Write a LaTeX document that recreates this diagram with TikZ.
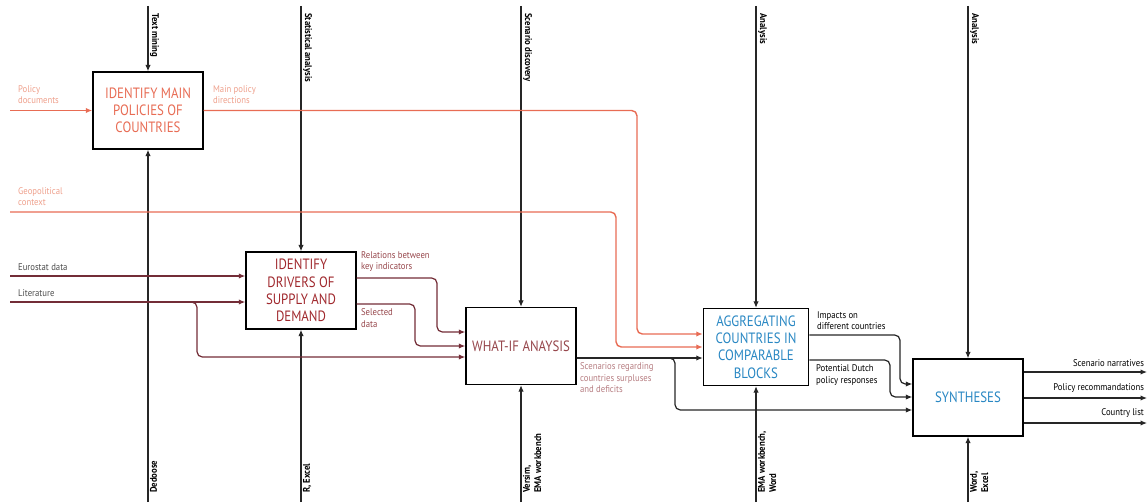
\documentclass[tikz,border=0pt]{standalone}
\usepackage{fontspec}
\setmainfont{PT Sans}
\newfontfamily\boxfont[FakeStretch=0.86]{PT Sans}
\newfontfamily\lblfont[FakeStretch=0.9]{PT Sans}
\usepackage{xcolor}
\definecolor{idefsalmon}{RGB}{232,108,84}
\definecolor{idefpale}{RGB}{238,160,140}
\definecolor{idefred}{RGB}{160,40,45}
\definecolor{idefwine}{RGB}{115,45,55}
\definecolor{idefrose}{RGB}{150,70,75}
\definecolor{idefblue}{RGB}{40,135,195}
\usetikzlibrary{positioning, arrows.meta}

\begin{document}
\begin{tikzpicture}[
  x=0.02cm, y=-0.02cm,
  proc/.style={rectangle, draw=black, line width=0.85pt, fill=white, minimum width=2.2cm, minimum height=1.54cm, align=center, font=\boxfont\fontsize{8.5}{9.8}\selectfont, inner sep=2pt},
  lbl/.style={font=\lblfont\fontsize{5.5}{6.4}\selectfont, inner sep=1pt, align=left},
  vlbl/.style={lbl, font=\lblfont\bfseries\fontsize{5.5}{6.4}\selectfont},
  ctrl/.style={-{Latex[length=1.3mm,width=1.1mm]}, black!85, line width=0.6pt},
  redarr/.style={-{Latex[length=1.3mm,width=1.1mm]}, idefsalmon, line width=0.8pt, rounded corners=3pt},
  winearr/.style={-{Latex[length=1.3mm,width=1.1mm]}, idefwine, line width=0.7pt, rounded corners=3pt},
  blkarr/.style={-{Latex[length=1.3mm,width=1.1mm]}, black!85, line width=0.7pt, rounded corners=3pt}
]
\useasboundingbox (0,0) rectangle (1148,503);

% activity boxes
\node[proc, text=idefsalmon] (pol) at (148,110.5) {IDENTIFY MAIN\\POLICIES OF\\COUNTRIES};
\node[proc, text=idefred] (drv) at (301,290.5) {IDENTIFY\\DRIVERS OF\\SUPPLY AND\\DEMAND};
\node[proc, text=idefrose] (wia) at (521,346) {WHAT-IF ANAYSIS};
\node[proc, text=idefblue, minimum width=2.1cm] (agg) at (756,347) {AGGREGATING\\COUNTRIES IN\\COMPARABLE\\BLOCKS};
\node[proc, text=idefblue] (syn) at (968,397.5) {SYNTHESES};

% controls (top) and mechanisms (bottom)
\foreach \b/\t/\n in {pol/Text mining/tm, drv/Statistical analysis/sa, wia/Scenario discovery/sd, agg/Analysis/ana, syn/Analysis/anb}{
  \coordinate (\n) at (\b.north |- 0,6);
  \draw[ctrl] (\n) -- (\b.north);
  \node[vlbl, rotate=-90, anchor=south west] (\n-l) at ([yshift=-3pt]\n) {\t};
}
\foreach \b/\t/\n in {pol/Dedoose/dd, drv/{R, Excel}/re, wia/{Versim,\\EMA workbench}/ve, agg/{EMA workbench,\\Word}/ew, syn/{Word,\\Excel}/we}{
  \coordinate (\n) at (\b.south |- 0,502);
  \draw[ctrl] (\n) -- (\b.south);
  \node[vlbl, rotate=90, anchor=north west] (\n-l) at ([yshift=4pt]\n) {\t};
}

% inputs
\coordinate (pd) at (10,110.5);
\coordinate (gc) at (10,212);
\coordinate (es) at (10,276);
\coordinate (lt) at (10,302);
\draw[redarr] (pd) -- (pol.west);
\draw[redarr] (pol.east) -- (637,110.5) |- (agg.west |- 0,334);
\draw[redarr] (gc) -- (616,212) |- (agg.west);
\draw[winearr] (es) -- (drv.west |- 0,276);
\draw[winearr] (lt) -- (drv.west |- 0,302);
\draw[winearr] (lt) -- (197,302) |- (wia.west |- 0,357);
\draw[winearr] (drv.east |- 0,278) -- (437,278) |- (wia.west |- 0,332);
\draw[winearr] (drv.east |- 0,304) -- (415,304) |- (wia.west);
\draw[blkarr] (wia.east |- 0,358) -- (agg.west |- 0,358);
\draw[blkarr] (wia.east |- 0,358) -- (675,358) |- (syn.west |- 0,410);
\draw[blkarr] (agg.east |- 0,335) -- (900,335) |- (syn.west |- 0,384);
\draw[blkarr] (agg.east |- 0,360) -- (890,360) |- (syn.west |- 0,397);

% outputs
\coordinate (sn) at (1147,372);
\coordinate (pr) at (1147,398);
\coordinate (cl) at (1147,423);
\draw[blkarr] (syn.east |- sn) -- (sn);
\draw[blkarr] (syn.east |- pr) -- (pr);
\draw[blkarr] (syn.east |- cl) -- (cl);

% arrow labels
\node[lbl, text=idefpale, anchor=south west] (pd-l) at (16,106) {Policy\\documents};
\node[lbl, text=idefpale, anchor=south west] (mp-l) at (211,106) {Main policy\\directions};
\node[lbl, text=idefpale, anchor=south west] (gc-l) at (16,208) {Geopolitical\\context};
\node[lbl, text=black!70, anchor=south west] (es-l) at (16,273) {Eurostat data};
\node[lbl, text=black!70, anchor=south west] (lt-l) at (16,299) {Literature};
\node[lbl, text=idefrose, anchor=south west] (ri-l) at (359,274) {Relations between\\key indicators};
\node[lbl, text=idefrose, anchor=north west] (sd-l) at (359,307) {Selected\\data};
\node[lbl, text=idefrose!70, anchor=north west] (sc-l) at (578,361) {Scenarios regarding\\countries surpluses\\and deficits};
\node[lbl, anchor=south west] (im-l) at (815,332) {Impacts on\\different countries};
\node[lbl, anchor=north west] (pdr-l) at (814,363) {Potential Dutch\\policy responses};
\node[lbl, anchor=south east] (sn-l) at (1146,369) {Scenario narratives};
\node[lbl, anchor=south east] (pr-l) at (1146,395) {Policy recommandations};
\node[lbl, anchor=south east] (cl-l) at (1146,420) {Country list};
\end{tikzpicture}
\end{document}
